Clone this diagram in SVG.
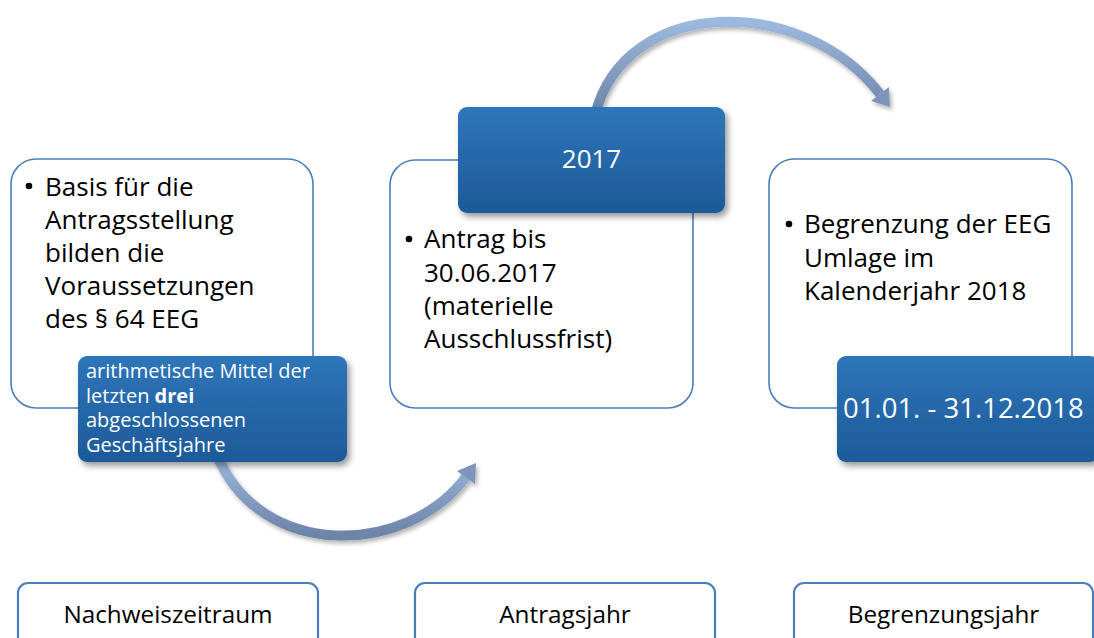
<svg xmlns="http://www.w3.org/2000/svg" width="1094" height="638" viewBox="0 0 1094 638">
<defs>
  <linearGradient id="darkGrad" x1="0" y1="0" x2="0" y2="1">
    <stop offset="0" stop-color="#2e76ba"/>
    <stop offset="1" stop-color="#1d5a98"/>
  </linearGradient>
  <linearGradient id="arrGrad" x1="0" y1="0" x2="0" y2="1">
    <stop offset="0" stop-color="#9db8de"/>
    <stop offset="1" stop-color="#6d83a8"/>
  </linearGradient>
  <filter id="sh" x="-10%" y="-10%" width="130%" height="140%">
    <feDropShadow dx="3" dy="4" stdDeviation="3" flood-color="#000" flood-opacity="0.4"/>
  </filter>
  <filter id="ash" x="-10%" y="-10%" width="130%" height="140%">
    <feDropShadow dx="2" dy="3" stdDeviation="2" flood-color="#000" flood-opacity="0.3"/>
  </filter>
</defs>
<style>
  .box{fill:#fff;stroke:#4a7ebb;stroke-width:1.6}
  .lbl{fill:#fff;stroke:#4a7ebb;stroke-width:2.2}
  .dark{fill:url(#darkGrad);filter:url(#sh)}
  .t{font-family:"Open Sans","Liberation Sans",sans-serif;font-size:26px;fill:#000}
  .w{fill:#fff}
  .s{font-size:20px}
  .big{font-size:27.5px}
  .lt{font-size:24.3px}
  .c{text-anchor:middle}
  .shaft{fill:none;stroke:url(#arrGrad);stroke-width:10}
  .head{fill:#7d95bb}
</style>

<g id="connectors" filter="url(#ash)">
  <path class="shaft" d="M217,455 C260,560 406,557 466,477"/>
  <polygon class="head" points="476,463 457,471 475,484"/>
  <path class="shaft" d="M595,115 C625,-5 803,-6 880,94"/>
  <polygon class="head" points="890,107 889,87 871,101"/>
</g>

<g id="nachweis">
  <rect class="box" x="11" y="159" width="302" height="249" rx="25"/>
  <circle cx="29" cy="186" r="3.3"/>
  <text class="t" x="45" y="196">Basis für die</text>
  <text class="t" x="45" y="229">Antragsstellung</text>
  <text class="t" x="45" y="262">bilden die</text>
  <text class="t" x="45" y="295">Voraussetzungen</text>
  <text class="t" x="45" y="328">des § 64 EEG</text>
</g>
<g id="mittel">
  <rect class="dark" x="78" y="356" width="269" height="106" rx="9"/>
  <text class="t w s" x="86" y="378">arithmetische Mittel der</text>
  <text class="t w s" x="86" y="402.5">letzten <tspan font-weight="bold">drei</tspan></text>
  <text class="t w s" x="86" y="427">abgeschlossenen</text>
  <text class="t w s" x="86" y="451.5">Geschäftsjahre</text>
</g>

<g id="antrag">
  <rect class="box" x="390" y="160" width="303" height="248" rx="25"/>
  <circle cx="409" cy="239" r="3.3"/>
  <text class="t" x="424" y="248">Antrag bis</text>
  <text class="t" x="424" y="282">30.06.2017</text>
  <text class="t" x="424" y="315">(materielle</text>
  <text class="t" x="424" y="348">Ausschlussfrist)</text>
</g>
<g id="jahr2017">
  <rect class="dark" x="458" y="107" width="267" height="106" rx="9"/>
  <text class="t w c" x="591.5" y="168">2017</text>
</g>

<g id="begrenzung">
  <rect class="box" x="769" y="159" width="303" height="249" rx="25"/>
  <circle cx="789" cy="224" r="3.3"/>
  <text class="t" x="804" y="233">Begrenzung der EEG</text>
  <text class="t" x="804" y="267">Umlage im</text>
  <text class="t" x="804" y="300">Kalenderjahr 2018</text>
</g>
<g id="zeitraum2018">
  <rect class="dark" x="837" y="356" width="262" height="106" rx="9"/>
  <text class="t w big" x="843" y="418">01.01. - 31.12.2018</text>
</g>

<g id="label-nachweiszeitraum">
  <rect class="lbl" x="18" y="583" width="300" height="70" rx="10"/>
  <text class="t c lt" x="168" y="623">Nachweiszeitraum</text>
</g>
<g id="label-antragsjahr">
  <rect class="lbl" x="415" y="583" width="300" height="70" rx="10"/>
  <text class="t c lt" x="565" y="623">Antragsjahr</text>
</g>
<g id="label-begrenzungsjahr">
  <rect class="lbl" x="794" y="583" width="299" height="70" rx="10"/>
  <text class="t c lt" x="943.5" y="623">Begrenzungsjahr</text>
</g>
</svg>
